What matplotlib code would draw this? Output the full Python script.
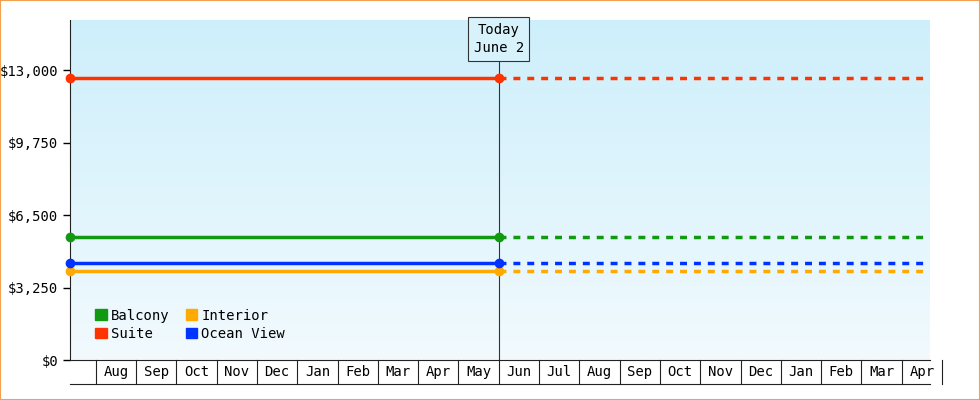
import numpy as np
import matplotlib.pyplot as plt
from matplotlib.patches import Rectangle

plt.rcParams['font.family'] = ['DejaVu Sans Mono']

# month axis: 0 = start of Aug (year 1)
months = ["Aug", "Sep", "Oct", "Nov", "Dec", "Jan", "Feb", "Mar", "Apr", "May",
          "Jun", "Jul", "Aug", "Sep", "Oct", "Nov", "Dec", "Jan", "Feb", "Mar", "Apr"]
x_start, x_today, x_end = -0.64, 10.0, 20.7
series = ["Balcony", "Suite", "Interior", "Ocean View"]
prices = [5500, 12650, 4000, 4350]
colors = ["#119911", "#ff3300", "#ffaa00", "#0033ff"]

fig = plt.figure(figsize=(9.8, 4), dpi=100)
fig.patches.append(Rectangle((0, 0), 1, 1, transform=fig.transFigure, fill=False,
                             edgecolor="#f5a050", linewidth=1.5))
ax = fig.add_axes([70/980, 40/400, 860/980, 340/400])
ymax = 15250
ax.set_xlim(x_start, x_end)
ax.set_ylim(0, ymax)

# gradient background
grad = np.linspace(0, 1, 256).reshape(-1, 1)
from matplotlib.colors import LinearSegmentedColormap
cm = LinearSegmentedColormap.from_list("bg", ["#f2fafe", "#cdeffb"])
ax.imshow(grad, aspect="auto", cmap=cm, origin="lower",
          extent=(x_start, x_end, 0, ymax), zorder=0)

for name, p, c in zip(series, prices, colors):
    ax.plot([x_start, x_today], [p, p], color=c, lw=2.5, zorder=3)
    ax.plot([x_today, x_end], [p, p], color=c, lw=2.5, ls=(0, (2, 2)), zorder=3)
    ax.plot([x_start, x_today], [p, p], "o", color=c, ms=6, zorder=4, clip_on=False)

ax.axvline(x_today, color="#333333", lw=0.8, zorder=2)
ax.text(x_today, 14400, "Today\nJune 2", ha="center", va="center", fontsize=10,
        linespacing=1.4,
        bbox=dict(boxstyle="square,pad=0.4", fc="#d8f2fb", ec="#333333", lw=0.8), zorder=5)

ax.set_yticks(np.arange(0, 13001, 3250))
ax.set_yticklabels([f"${v:,.0f}" for v in np.arange(0, 13001, 3250)], fontsize=10)
ax.tick_params(axis="y", length=5, width=1)
ax.set_xticks([])
for s in ["top", "right"]:
    ax.spines[s].set_visible(False)
ax.spines["left"].set_color("#222222")
ax.spines["bottom"].set_color("#222222")

# month cells below axis
trans = ax.get_xaxis_transform()
cell_h = -0.072
for i in range(len(months) + 1):
    ax.plot([i, i], [0, cell_h], color="#222222", lw=0.8, transform=trans, clip_on=False)
ax.plot([x_start, x_end], [cell_h, cell_h], color="#222222", lw=0.8, transform=trans, clip_on=False)
for i, m in enumerate(months):
    ax.text(i + 0.5, cell_h / 2, m, ha="center", va="center", fontsize=10,
            transform=trans, clip_on=False)

# legend
handles = [Rectangle((0, 0), 1, 1, color=c) for c in colors]
ax.legend(handles, series, loc="lower left", bbox_to_anchor=(0.015, 0.02), ncol=2,
          frameon=False, fontsize=10, handlelength=0.8, handleheight=0.8,
          handletextpad=0.3, columnspacing=1.2, labelspacing=0.3)

fig.savefig("out.png", dpi=100)
